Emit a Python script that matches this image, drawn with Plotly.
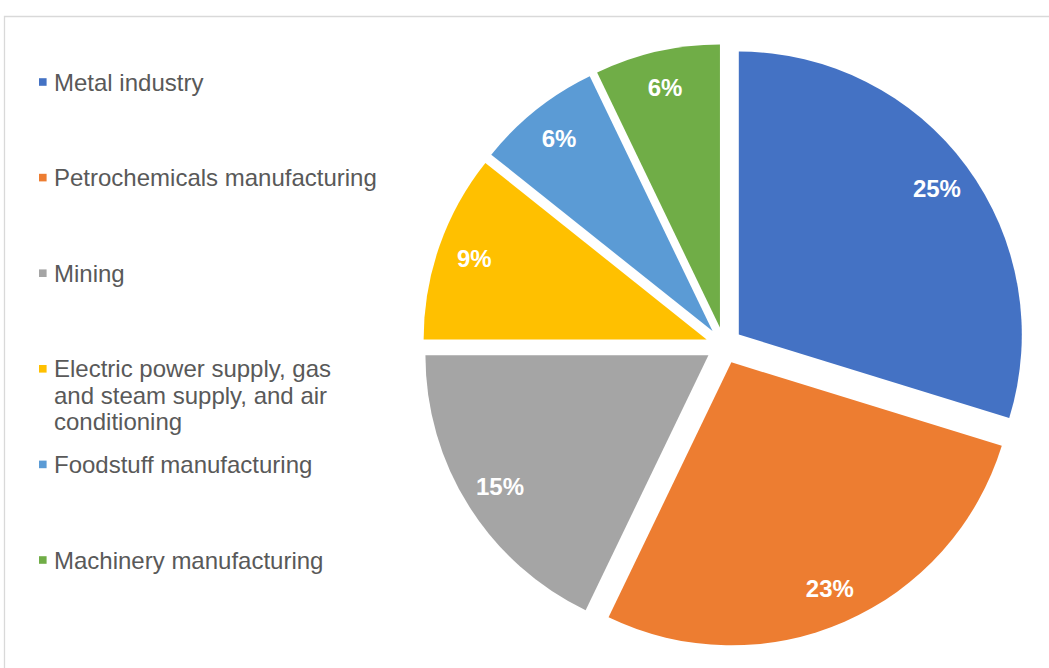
import plotly.graph_objects as go

# ---- data ----
categories = [
    "Metal industry",
    "Petrochemicals manufacturing",
    "Mining",
    "Electric power supply, gas<br>and steam supply, and air<br>conditioning",
    "Foodstuff manufacturing",
    "Machinery manufacturing",
]
shares = [25, 23, 15, 9, 6, 6]
share_labels = ["25%", "23%", "15%", "9%", "6%", "6%"]
colors = ["#4472C4", "#ED7D31", "#A5A5A5", "#FFC000", "#5B9BD5", "#70AD47"]

# ---- layout constants ----
W, H = 1049, 668
dom_x = [422.6 / W, 1025.4 / W]
dom_y = [1 - 646.9 / H, 1 - 44.1 / H]
pull = 0.065
font_family = "Liberation Sans, Arial, sans-serif"

fig = go.Figure()

# main exploded pie
fig.add_trace(go.Pie(
    labels=categories, values=shares, text=share_labels,
    sort=False, direction="clockwise", rotation=0, pull=pull,
    marker=dict(colors=colors, line=dict(width=0)),
    textinfo="none", domain=dict(x=dom_x, y=dom_y), showlegend=False,
    hovertemplate="%{label}: %{text}<extra></extra>",
))

# transparent ring overlay that positions the percentage labels near the rim
fig.add_trace(go.Pie(
    labels=categories, values=shares, text=share_labels,
    sort=False, direction="clockwise", rotation=0, pull=pull, hole=0.74,
    marker=dict(colors=["rgba(0,0,0,0)"] * len(shares), line=dict(width=0)),
    textinfo="text", textposition="inside", insidetextorientation="horizontal",
    textfont=dict(family=font_family, size=24, color="white", weight="bold"),
    domain=dict(x=dom_x, y=dom_y), showlegend=False, hoverinfo="skip",
))

# ---- custom legend on the left ----
legend_top = 82
legend_step = 95.6
line_step = 26.5
sq = 7.6
shapes = []
annotations = []
for i, (name, col) in enumerate(zip(categories, colors)):
    yc = legend_top + i * legend_step
    shapes.append(dict(
        type="rect", xref="paper", yref="paper",
        x0=39 / W, x1=(39 + sq) / W,
        y0=1 - (yc + sq / 2) / H, y1=1 - (yc - sq / 2) / H,
        fillcolor=col, line=dict(width=0),
    ))
    for j, line in enumerate(name.split("<br>")):
        annotations.append(dict(
            text=line, xref="paper", yref="paper",
            x=52 / W, y=1 - (yc + j * line_step) / H,
            xanchor="left", yanchor="middle", showarrow=False,
            font=dict(family=font_family, size=24, color="#595959"),
        ))

# chart area border
shapes.append(dict(
    type="rect", xref="paper", yref="paper",
    x0=4.5 / W, x1=1.05, y0=-0.05, y1=1 - 16.5 / H,
    line=dict(color="#D9D9D9", width=1.3), fillcolor="rgba(0,0,0,0)", layer="below",
))

fig.update_layout(
    width=W, height=H,
    margin=dict(l=0, r=0, t=0, b=0),
    paper_bgcolor="white", plot_bgcolor="white",
    shapes=shapes, annotations=annotations,
    showlegend=False,
)

fig.write_html("out.html", config={"displayModeBar": False})
